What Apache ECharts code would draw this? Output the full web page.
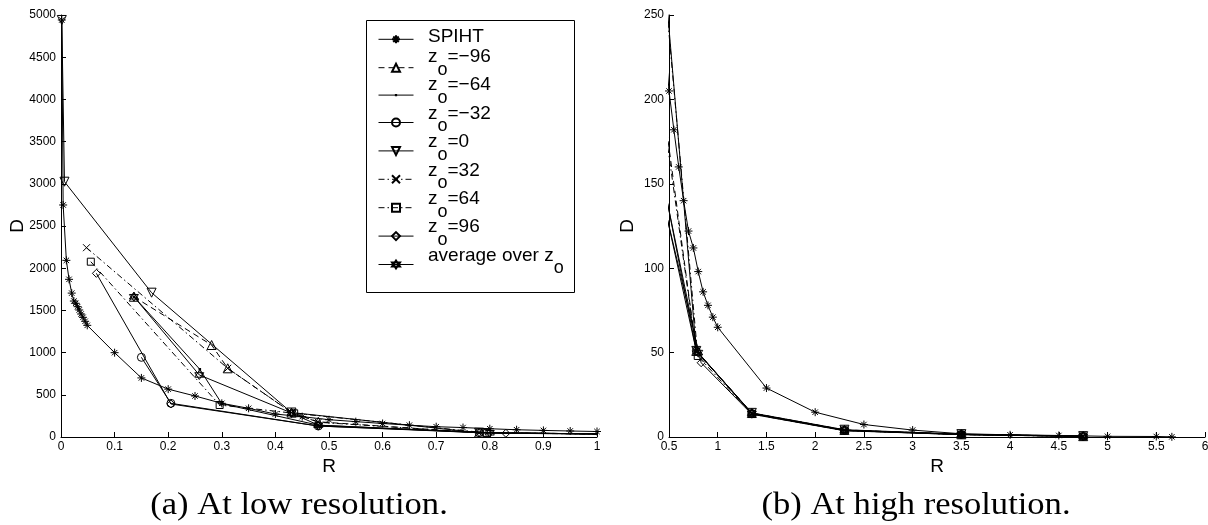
<!DOCTYPE html>
<html><head><meta charset="utf-8">
<script src="https://cdn.jsdelivr.net/npm/echarts@6/dist/echarts.min.js"></script>
<style>html,body{margin:0;padding:0;background:#fff}#c{width:1208px;height:525px}</style>
</head><body><div id="c"></div>
<script>
// ---------- data (R = rate, D = distortion) ----------
const spihtR = [0.0015,0.004,0.010,0.015,0.020,0.024,0.0276,0.031,0.034,0.0375,0.041,0.045,0.049,0.10,0.15,0.20,0.25,0.30,0.35,0.40,0.45,0.50,0.55,0.60,0.65,0.70,0.75,0.80,0.85,0.90,0.95,1.00,1.50,2.00,2.50,3.00,3.50,4.00,4.50,5.00,5.50,5.66];
const spihtD = [4941,2749,2093,1868,1705,1611,1584,1544,1505,1457,1418,1371,1323,999,700,567,486,399,340,272,241,205,182,160,140,122,112,98,86,78,71,65,29,14.7,7.4,4.1,1.9,1.3,0.9,0.4,0.3,0.1];
const zm96R = [0.136,0.281,0.311,0.43,0.48,0.78,1.35,2.30,3.50,4.75];
const zm96D = [1662,1090,814,290,180,51,14.2,4.2,1.6,0.5];
const zm64R = [0.136,0.259,0.300,0.48,0.78,1.35,2.30,3.50,4.75];
const zm64D = [1662,802,395,140,51,13.8,3.9,1.5,0.4];
const zm32R = [0.150,0.205,0.48,0.78,1.35,2.30,3.50,4.75];
const zm32D = [944,399,130,51,14,4,1.5,0.4];
const z0R   = [0.0015,0.0065,0.169,0.43,0.78,1.35,2.30,3.50,4.75];
const z0D   = [4941,3025,1710,290,51,14.3,4.3,1.7,0.5];
const zp32R = [0.0476,0.311,0.43,0.48,0.78,1.35,2.30,3.50,4.75];
const zp32D = [2243,814,290,175,51,14,4,1.5,0.4];
const zp64R = [0.0556,0.296,0.435,0.795,1.35,2.30,3.50,4.75];
const zp64D = [2077,379,281,48,13.6,3.8,1.4,0.3];
const zp96R = [0.066,0.205,0.48,0.83,1.35,2.30,3.50,4.75];
const zp96D = [1939,391,130,44,13.5,3.7,1.4,0.3];
const avgR  = [0.136,0.258,0.43,0.48,0.80,1.35,2.30,3.50,4.75];
const avgD  = [1662,735,285,140,50,14,4,1.5,0.4];

const seriesNames = ['SPIHT','zo=−96','zo=−64','zo=−32','zo=0','zo=32','zo=64','zo=96','average over zo'];
const legendLabels = ['{t|SPIHT}','{m|z}{s|o}{m|=−96}','{m|z}{s|o}{m|=−64}','{m|z}{s|o}{m|=−32}','{m|z}{s|o}{m|=0}','{m|z}{s|o}{m|=32}','{m|z}{s|o}{m|=64}','{m|z}{s|o}{m|=96}','{m|average over z}{s|o}'];
const captions = ['(a) At low resolution.','(b) At high resolution.'];

// ---------- styling ----------
const F = 'Liberation Sans, Arial, Helvetica, sans-serif';
const P_AST = 'path://M5,0L5,10M0,5L10,5M1.6,1.6L8.4,8.4M1.6,8.4L8.4,1.6';
const P_X   = 'path://M0,0L10,10M0,10L10,0';
const P_HEX = 'path://M5,0L9.33,7.5L0.67,7.5ZM5,10L0.67,2.5L9.33,2.5Z';
const P_UP  = 'path://M5,0L10,8.66L0,8.66Z';
const P_DN  = 'path://M0,0L10,0L5,8.66Z';
const P_DOT = 'path://M0,0L0.01,0L0,0.01ZM10,10L9.99,10L10,9.99ZM3.6,3.6L6.4,3.6L6.4,6.4L3.6,6.4Z';
const DASH = [6,4];
const DASHDOT = [6,3,1.5,3];

const defs = [
  [spihtR, spihtD, P_AST, 8, 'solid', false],
  [zm96R, zm96D, P_UP, 9, DASH, false],
  [zm64R, zm64D, P_DOT, 9, 'solid', true],
  [zm32R, zm32D, 'circle', 8, 'solid', false],
  [z0R, z0D, P_DN, 9, 'solid', false],
  [zp32R, zp32D, P_X, 7, DASHDOT, false],
  [zp64R, zp64D, 'rect', 7, DASHDOT, false],
  [zp96R, zp96D, 'diamond', 8, 'solid', false],
  [avgR, avgD, P_HEX, 9, 'solid', false]
];

const series = [];
[0,1].forEach(g => {
  defs.forEach((d, i) => {
    const filled = d[5];
    series.push({
      type: 'line', name: seriesNames[i], xAxisIndex: g, yAxisIndex: g,
      data: d[0].map((r, k) => [r, d[1][k]]),
      symbol: d[2], symbolSize: d[3], showSymbol: true, showAllSymbol: true,
      clip: true, silent: true, animation: false,
      lineStyle: {color: '#000', width: 1, type: d[4]},
      itemStyle: filled ? {color: '#000', borderWidth: 0} : {color: 'rgba(0,0,0,0)', borderColor: '#000', borderWidth: 1},
      emphasis: {disabled: true}
    });
  });
});

const fmt = v => String(+(+v).toFixed(3));
function xAxis(g, min, max, interval) {
  return {type: 'value', gridIndex: g, min, max, interval,
    axisLine: {onZero: false, lineStyle: {color: '#000', width: 1}},
    axisTick: {inside: true, length: 5, lineStyle: {color: '#000', width: 1}},
    axisLabel: {color: '#000', fontSize: 12, fontFamily: F, margin: 4, formatter: fmt},
    splitLine: {show: false},
    name: 'R', nameLocation: 'middle', nameGap: 20, nameMoveOverlap: false,
    nameTextStyle: {color: '#000', fontSize: 19, fontFamily: F}};
}
function yAxis(g, min, max, interval, gap) {
  return {type: 'value', gridIndex: g, min, max, interval,
    axisLine: {show: true, onZero: false, lineStyle: {color: '#000', width: 1}},
    axisTick: {show: true, inside: true, length: 5, lineStyle: {color: '#000', width: 1}},
    axisLabel: {color: '#000', fontSize: 12, fontFamily: F, margin: 5, formatter: fmt},
    splitLine: {show: false},
    name: 'D', nameLocation: 'middle', nameGap: gap, nameRotate: 90, nameMoveOverlap: false,
    nameTextStyle: {color: '#000', fontSize: 19, fontFamily: F}};
}

// legend labels as real text with subscripts
const LEG_X = 428, LEG_Y0 = 39.3, LEG_DY = 28.4;
const richStyles = {
  t: {fontSize: 19, fontFamily: F, fill: '#000', padding: [0,0,5,0]},
  m: {fontSize: 19, fontFamily: F, fill: '#000', padding: [0,0,22,0]},
  s: {fontSize: 18, fontFamily: F, fill: '#000', padding: [4,0,0,0]}
};
const legendTexts = legendLabels.map((lab, i) => ({
  type: 'text', x: LEG_X, y: LEG_Y0 + LEG_DY * i, z: 20,
  style: {text: lab, rich: richStyles, textAlign: 'left', textVerticalAlign: 'middle', fill: '#000',
          fontSize: 19, fontFamily: F}
}));

const option = {
  animation: false,
  backgroundColor: '#fff',
  grid: [
    {left: 61, top: 15, width: 536, height: 422, outerBoundsMode: 'none'},
    {left: 669, top: 15, width: 536, height: 422, outerBoundsMode: 'none'}
  ],
  xAxis: [xAxis(0, 0, 1, 0.1), xAxis(1, 0.5, 6, 0.5)],
  yAxis: [yAxis(0, 0, 5000, 500, 34), yAxis(1, 0, 250, 50, 32)],
  legend: {
    data: seriesNames, orient: 'vertical', left: 378, top: LEG_Y0 - 5, padding: 0,
    itemWidth: 35, itemHeight: 10, itemGap: LEG_DY - 10, selectedMode: false,
    lineStyle: {width: 1},
    formatter: () => '',
    textStyle: {fontSize: 1, lineHeight: 1, color: 'rgba(0,0,0,0)'}
  },
  graphic: [
    {type: 'rect', shape: {x: 366.5, y: 20.5, width: 208, height: 272}, style: {fill: 'none', stroke: '#000', lineWidth: 1}, z: 10},
    ...legendTexts,
    {type: 'text', x: 299, y: 506, scaleX: 1.08, style: {text: captions[0], font: '32px "Liberation Serif", serif', textAlign: 'center', textVerticalAlign: 'middle', fill: '#000'}},
    {type: 'text', x: 916, y: 506, scaleX: 1.08, style: {text: captions[1], font: '32px "Liberation Serif", serif', textAlign: 'center', textVerticalAlign: 'middle', fill: '#000'}}
  ],
  series
};
const chart = echarts.init(document.getElementById('c'), null, {renderer: 'canvas'});
chart.setOption(option);
</script>
</body></html>
